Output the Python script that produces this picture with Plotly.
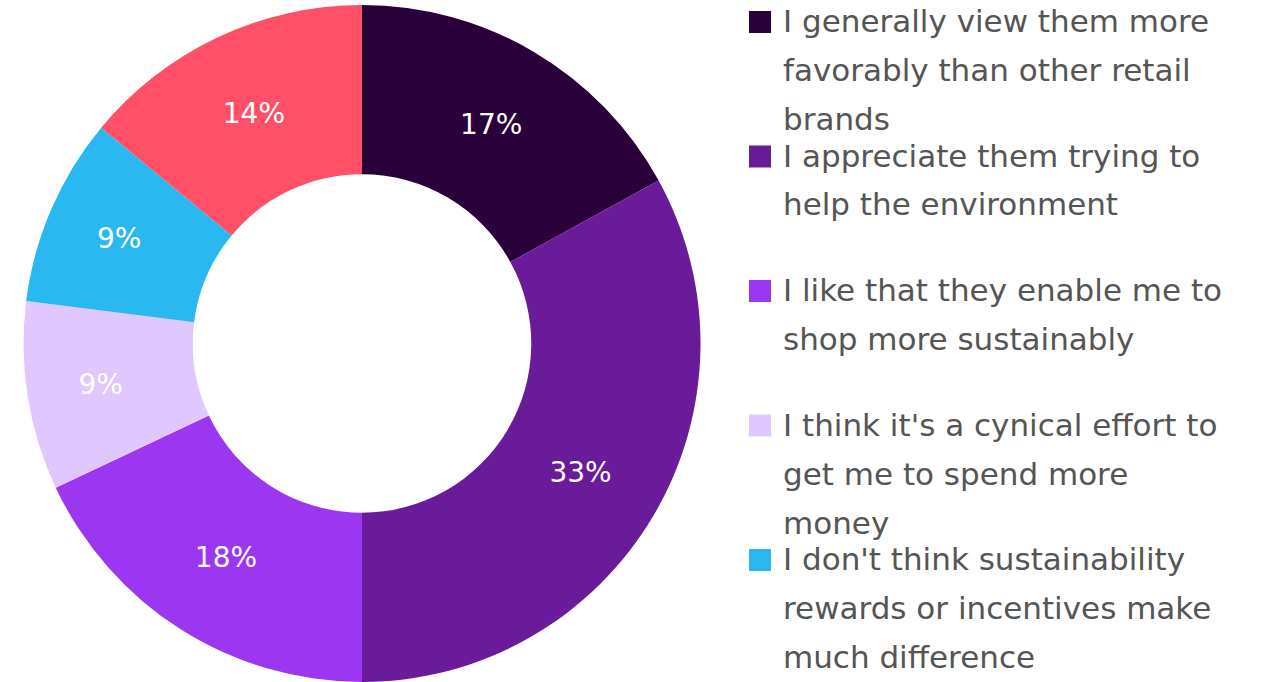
import plotly.graph_objects as go

# Survey responses and their shares (%)
labels = [
    "I generally view them more favorably than other retail brands",
    "I appreciate them trying to help the environment",
    "I like that they enable me to shop more sustainably",
    "I think it's a cynical effort to get me to spend more money",
    "I don't think sustainability rewards or incentives make much difference",
    "Other",
]
values = [17, 33, 18, 9, 9, 14]
colors = ["#2a003b", "#6a1b9a", "#9b37f0", "#e0c8ff", "#29b9f0", "#ff5068"]

# Wrapped lines for the legend entries that fit on the page
legend_lines = [
    ["I generally view them more", "favorably than other retail", "brands"],
    ["I appreciate them trying to", "help the environment"],
    ["I like that they enable me to", "shop more sustainably"],
    ["I think it's a cynical effort to", "get me to spend more", "money"],
    ["I don't think sustainability", "rewards or incentives make", "much difference"],
]

W, H = 1263, 682
FONT = "DejaVu Sans"

fig = go.Figure(
    go.Pie(
        labels=labels,
        values=values,
        hole=0.5,
        sort=False,
        direction="clockwise",
        rotation=0,
        marker=dict(colors=colors, line=dict(width=0)),
        textinfo="percent",
        texttemplate="%{percent:.0%}",
        textposition="inside",
        insidetextorientation="horizontal",
        textfont=dict(family=FONT, size=28, color="white"),
        domain=dict(x=[0, 724 / W], y=[0, 1 - 5 / H]),
        showlegend=False,
    )
)

# Legend drawn as swatches plus text lines
item_top = 22
item_step = 134.5
line_step = 49
sw_x0, sw_size, txt_x = 749, 22, 781
shapes, annotations = [], []
for i, lines in enumerate(legend_lines):
    cy = item_top + i * item_step
    shapes.append(dict(
        type="rect", xref="paper", yref="paper",
        x0=sw_x0 / W, x1=(sw_x0 + sw_size) / W,
        y0=1 - (cy + sw_size / 2) / H, y1=1 - (cy - sw_size / 2) / H,
        fillcolor=colors[i], line=dict(width=0),
    ))
    for j, line in enumerate(lines):
        annotations.append(dict(
            xref="paper", yref="paper",
            x=txt_x / W, y=1 - (cy - 1 + j * line_step) / H,
            xanchor="left", yanchor="middle",
            text=line, showarrow=False,
            font=dict(family=FONT, size=31, color="#555555"),
        ))

fig.update_layout(
    width=W, height=H,
    margin=dict(l=0, r=0, t=0, b=0),
    paper_bgcolor="white",
    plot_bgcolor="white",
    shapes=shapes,
    annotations=annotations,
)

fig.write_html("out.html")
